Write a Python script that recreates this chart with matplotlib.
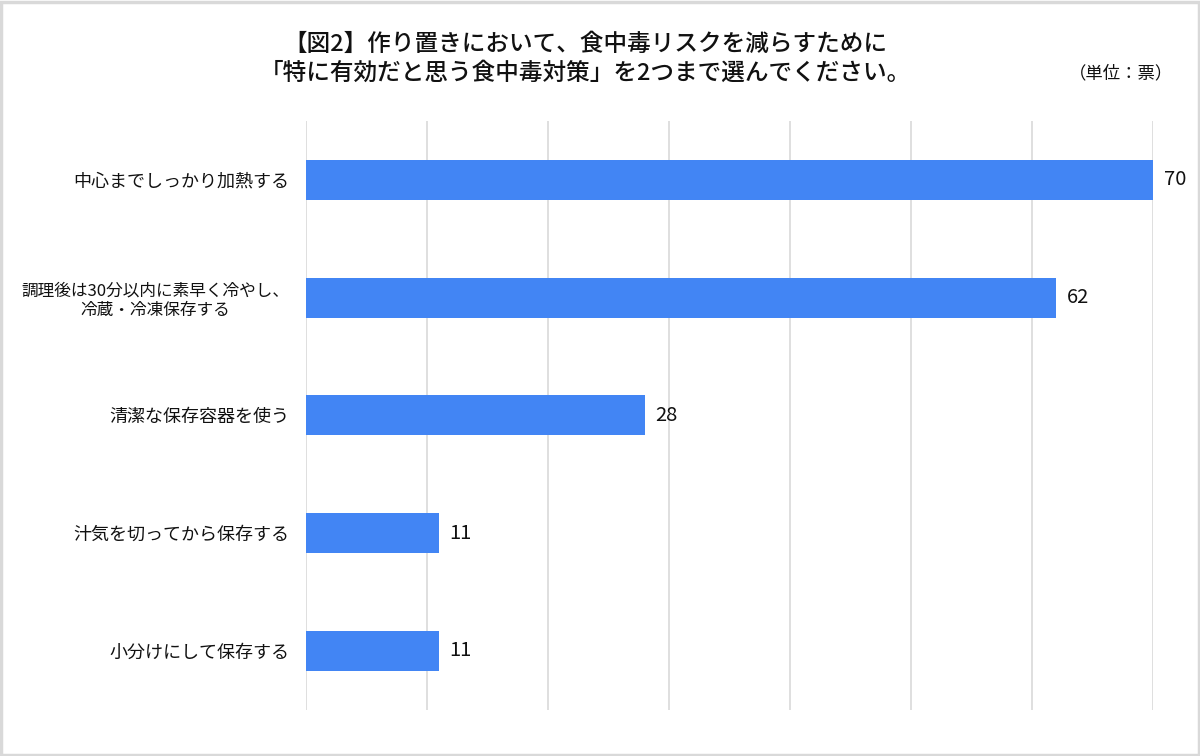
import matplotlib.pyplot as plt
from matplotlib.patches import Rectangle

plt.rcParams['font.family'] = ['Noto Sans CJK JP', 'DejaVu Sans']

# データ
categories = [
    "中心までしっかり加熱する",
    "調理後は30分以内に素早く冷やし、\n冷蔵・冷凍保存する",
    "清潔な保存容器を使う",
    "汁気を切ってから保存する",
    "小分けにして保存する",
]
values = [70, 62, 28, 11, 11]
label_sizes = [13, 12, 13, 13, 13]

title = "【図2】作り置きにおいて、食中毒リスクを減らすために\n「特に有効だと思う食中毒対策」を2つまで選んでください。"
unit = "（単位：票）"

fig = plt.figure(figsize=(12, 7.56), dpi=100)
ax = fig.add_axes([0.255, 0.061, 0.706, 0.779])

y = list(range(len(categories)))
ax.barh(y, values, height=0.34, color="#4285f4", zorder=3)

for yi, v in zip(y, values):
    ax.annotate(str(v), (v, yi), xytext=(7.5, 0), textcoords="offset points",
                ha="left", va="center", fontsize=14.5, color="#111111")

ax.set_xlim(0, 70)
ax.set_ylim(len(categories) - 0.5, -0.5)
ax.set_xticks(range(0, 71, 10))
ax.xaxis.grid(True, color="#d9d9d9", linewidth=1.2, zorder=0)
ax.tick_params(axis="x", length=0, labelbottom=False)
ax.tick_params(axis="y", length=0, pad=12)
ax.set_yticks(y)
ax.set_yticklabels(categories)
for lab, fs in zip(ax.get_yticklabels(), label_sizes):
    lab.set_fontsize(fs)
    lab.set_multialignment("center")
    lab.set_color("#111111")
    lab.set_linespacing(1.15)
for s in ax.spines.values():
    s.set_visible(False)

fig.text(0.488, 0.922, title, ha="center", va="center", fontsize=17,
         fontweight="medium", color="#111111", linespacing=1.3)
fig.text(0.934, 0.903, unit, ha="center", va="center", fontsize=12.5, color="#111111")

# 外枠
fig.patches.append(Rectangle((0.001, 0.001), 0.998, 0.997, transform=fig.transFigure,
                             fill=False, edgecolor="#d9d9d9", linewidth=2.5))

fig.savefig("out.png", dpi=100)
